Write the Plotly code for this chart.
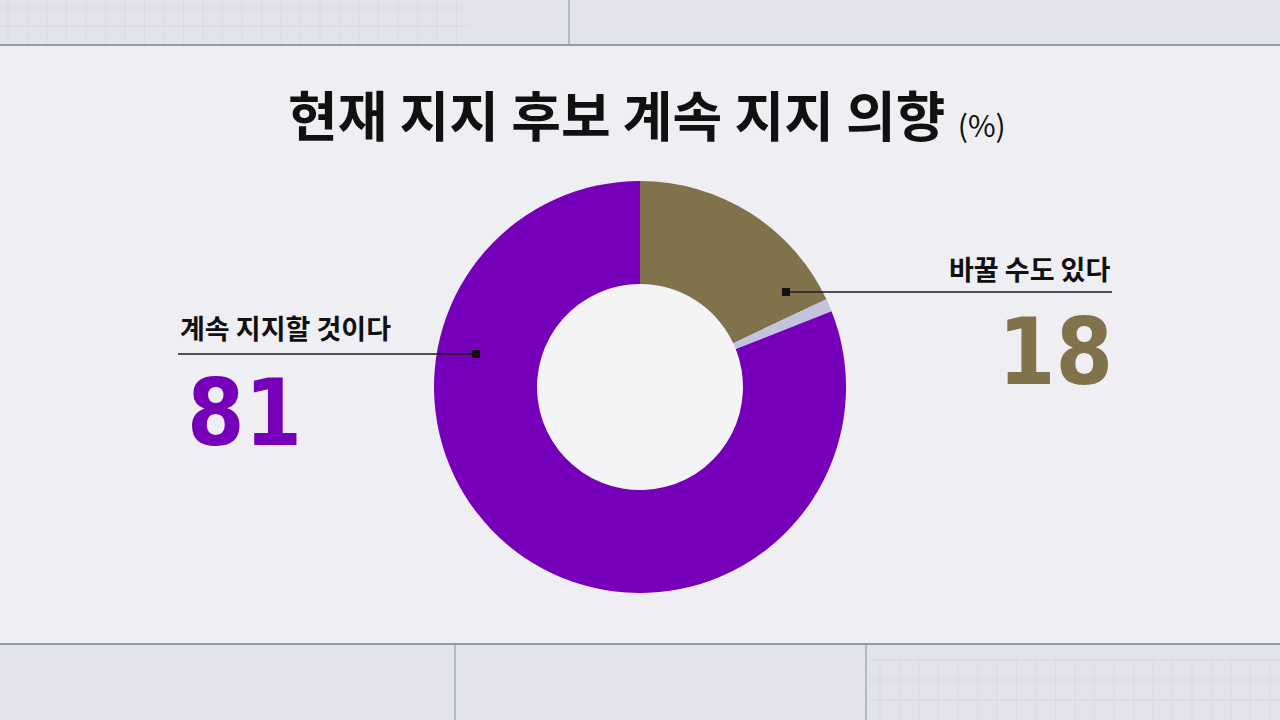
import plotly.graph_objects as go

# data
labels = ['바꿀 수도 있다', '기타', '계속 지지할 것이다']
values = [18, 1, 81]
colors = ['#80734b', '#c3c3dd', '#7600b9']

title = '현재 지지 후보 계속 지지 의향'
left_label, left_value = '계속 지지할 것이다', 81
right_label, right_value = '바꿀 수도 있다', 18

W, H = 1280, 720
FONT = 'Noto Sans CJK KR'
NUM_FONT = 'DejaVu Sans Condensed, Roboto Condensed, Roboto, sans-serif'


def px(x):
    return x / W


def py(y):
    return 1 - y / H


fig = go.Figure()

fig.add_trace(go.Pie(
    labels=labels,
    values=values,
    marker=dict(colors=colors, line=dict(width=0)),
    hole=0.5,
    sort=False,
    direction='clockwise',
    rotation=0,
    textinfo='none',
    hoverinfo='label+value',
    domain=dict(x=[px(434), px(846)], y=[py(593), py(181)]),
    showlegend=False,
))

shapes = [
    # top and bottom paper strips
    dict(type='rect', xref='paper', yref='paper', x0=0, x1=1, y0=py(45), y1=1,
         fillcolor='#e3e3eb', line=dict(width=0), layer='below'),
    dict(type='rect', xref='paper', yref='paper', x0=0, x1=1, y0=0, y1=py(644),
         fillcolor='#e3e3eb', line=dict(width=0), layer='below'),
    dict(type='line', xref='paper', yref='paper', x0=0, x1=1, y0=py(45), y1=py(45),
         line=dict(color='#7a7f96', width=1.5)),
    dict(type='line', xref='paper', yref='paper', x0=0, x1=1, y0=py(644), y1=py(644),
         line=dict(color='#7a7f96', width=1.5)),
    dict(type='line', xref='paper', yref='paper', x0=px(569), x1=px(569), y0=py(45), y1=1,
         line=dict(color='#8a8ea2', width=1)),
    dict(type='line', xref='paper', yref='paper', x0=px(455), x1=px(455), y0=0, y1=py(644),
         line=dict(color='#8a8ea2', width=1)),
    dict(type='line', xref='paper', yref='paper', x0=px(866), x1=px(866), y0=0, y1=py(644),
         line=dict(color='#8a8ea2', width=1)),
    # leader lines
    dict(type='line', xref='paper', yref='paper', x0=px(178), x1=px(476), y0=py(354), y1=py(354),
         line=dict(color='#1a1a1a', width=1.5)),
    dict(type='rect', xref='paper', yref='paper', x0=px(472), x1=px(480), y0=py(350), y1=py(358),
         fillcolor='#111111', line=dict(width=0)),
    dict(type='line', xref='paper', yref='paper', x0=px(786), x1=px(1112), y0=py(292), y1=py(292),
         line=dict(color='#1a1a1a', width=1.5)),
    dict(type='rect', xref='paper', yref='paper', x0=px(782), x1=px(790), y0=py(288), y1=py(296),
         fillcolor='#111111', line=dict(width=0)),
]
# faint grid on the top-left and bottom-right strips
for i in range(0, 24):
    x = 8 + i * 19.5
    shapes.append(dict(type='line', xref='paper', yref='paper', x0=px(x), x1=px(x), y0=py(45), y1=1,
                       line=dict(color='#d3d4de', width=0.6), layer='below'))
for y in [8, 26]:
    shapes.append(dict(type='line', xref='paper', yref='paper', x0=0, x1=px(470), y0=py(y), y1=py(y),
                       line=dict(color='#d3d4de', width=0.6), layer='below'))
for i in range(0, 21):
    x = 880 + i * 19.5
    shapes.append(dict(type='line', xref='paper', yref='paper', x0=px(x), x1=px(x), y0=0, y1=py(660),
                       line=dict(color='#d3d4de', width=0.6), layer='below'))
for y in [660, 680, 700]:
    shapes.append(dict(type='line', xref='paper', yref='paper', x0=px(870), x1=1, y0=py(y), y1=py(y),
                       line=dict(color='#d3d4de', width=0.6), layer='below'))

annotations = [
    dict(text=f"<b>{title}</b> <span style='font-size:30px;font-weight:400'>(%)</span>",
         x=px(647), y=py(113), xref='paper', yref='paper', showarrow=False,
         xanchor='center', yanchor='middle',
         font=dict(family=FONT, size=54, color='#111111', weight=900)),
    dict(text=f"<b>{left_label}</b>", x=px(178), y=py(328), xref='paper', yref='paper',
         xanchor='left', yanchor='middle', showarrow=False,
         font=dict(family=FONT, size=27, color='#111111', weight=900)),
    dict(text=f"<b>{left_value}</b>", x=px(244), y=py(414), xref='paper', yref='paper',
         xanchor='center', yanchor='middle', showarrow=False,
         font=dict(family=NUM_FONT, size=92, color=colors[2], weight=900)),
    dict(text=f"<b>{right_label}</b>", x=px(1112), y=py(268), xref='paper', yref='paper',
         xanchor='right', yanchor='middle', showarrow=False,
         font=dict(family=FONT, size=27, color='#111111', weight=900)),
    dict(text=f"<b>{right_value}</b>", x=px(1055), y=py(352), xref='paper', yref='paper',
         xanchor='center', yanchor='middle', showarrow=False,
         font=dict(family=NUM_FONT, size=92, color=colors[0], weight=900)),
]

fig.update_layout(
    width=W, height=H,
    margin=dict(l=0, r=0, t=0, b=0),
    paper_bgcolor='#efeff3',
    plot_bgcolor='#efeff3',
    shapes=shapes,
    annotations=annotations,
)

# inner hole colour
fig.add_shape(type='circle', xref='paper', yref='paper',
              x0=px(537), x1=px(743), y0=py(490), y1=py(284),
              fillcolor='#f4f4f6', line=dict(width=0), layer='below')

fig.write_html('out.html', config={'displayModeBar': False},
               post_script="document.body.style.margin='0';")
